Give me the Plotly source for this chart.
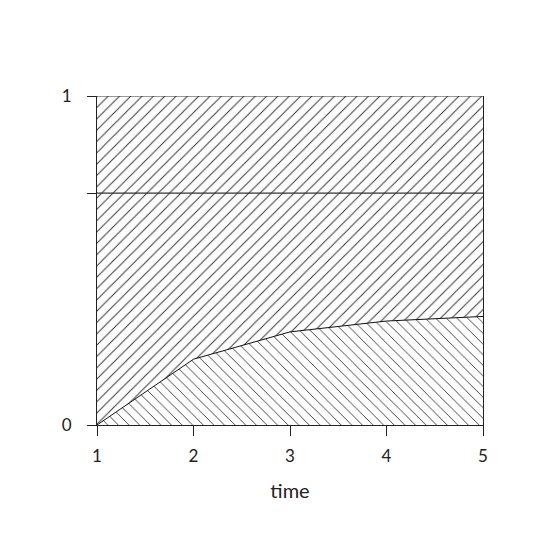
import plotly.graph_objects as go

time = [1, 2, 3, 4, 5]
bottom = [0, 0.2, 0.283, 0.316, 0.33]
middle = [0.705, 0.705, 0.705, 0.705, 0.705]
top = [1, 1, 1, 1, 1]

fig = go.Figure()
fig.add_trace(go.Scatter(x=time, y=bottom, mode="lines", fill="tozeroy",
                         line=dict(color="#111", width=1),
                         fillcolor="white",
                         fillpattern=dict(shape="\\", size=7.5, solidity=0.12,
                                          fgcolor="#333", bgcolor="white", fillmode="replace"),
                         showlegend=False))
fig.add_trace(go.Scatter(x=time, y=middle, mode="lines", fill="tonexty",
                         line=dict(color="#333", width=1.2),
                         fillcolor="white",
                         fillpattern=dict(shape="/", size=8, solidity=0.12,
                                          fgcolor="#333", bgcolor="white", fillmode="replace"),
                         showlegend=False))
fig.add_trace(go.Scatter(x=time, y=top, mode="lines", fill="tonexty",
                         line=dict(color="#333", width=1.2),
                         fillcolor="white",
                         fillpattern=dict(shape="/", size=8, solidity=0.12,
                                          fgcolor="#333", bgcolor="white", fillmode="replace"),
                         showlegend=False))

fig.update_layout(
    width=540, height=539,
    margin=dict(l=89, r=65, t=88, b=122),
    paper_bgcolor="white", plot_bgcolor="white",
    font=dict(family="Lato", size=17, color="#222"),
    xaxis=dict(range=[1, 5], tickvals=time, ticks="outside", ticklen=10,
               tickcolor="#222", showline=True, linecolor="#222", linewidth=1,
               showgrid=False, zeroline=False, ticklabelstandoff=6,
               title=dict(text="time", standoff=18)),
    yaxis=dict(range=[0, 1], tickvals=[0, 0.705, 1], ticktext=["0", "", "1"],
               ticks="outside", ticklen=9, tickcolor="#222",
               showline=True, linecolor="#222", linewidth=1, mirror=True,
               showgrid=False, zeroline=False, ticklabelstandoff=12),
)
fig.write_html("out.html")
